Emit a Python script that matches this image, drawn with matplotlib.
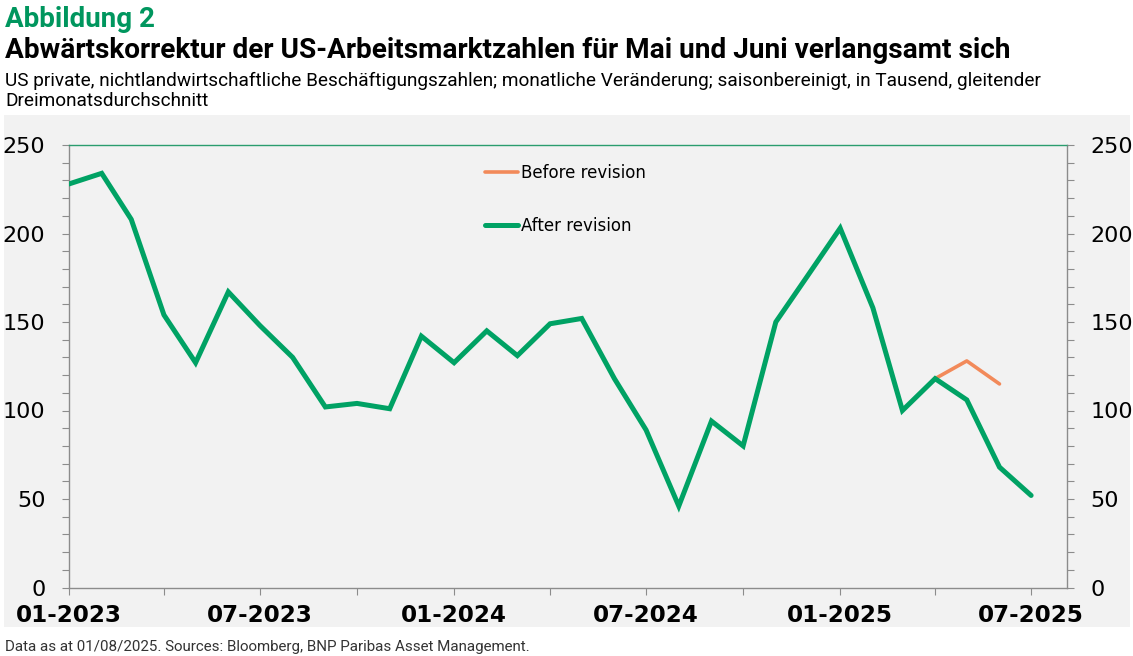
import matplotlib
matplotlib.use("Agg")
import matplotlib.pyplot as plt
from matplotlib.patches import Rectangle
from matplotlib.ticker import MultipleLocator
import pandas as pd

# 3-month moving average, private non-farm payrolls, thousands
after_dates = pd.date_range("2023-01-01", periods=31, freq="MS")
after_values = [228, 234, 208, 154, 127, 167, 148, 130, 102, 104, 101, 142,
                127, 145, 131, 149, 152, 118, 89, 46, 94, 80, 150, 176,
                203, 158, 100, 118, 106, 68, 52]

before_dates = pd.date_range("2025-04-01", periods=3, freq="MS")
before_values = [118, 128, 115]

tick_dates = pd.date_range("2023-01-01", "2025-07-01", freq="3MS")
tick_labels = [d.strftime("%m-%Y") if d.month in (1, 7) else "" for d in tick_dates]

GREEN = "#00a264"
TITLE_GREEN = "#00965e"
ORANGE = "#f28a5a"
GREY_BG = "#f2f2f2"
AX_GREY = "#8c8c8c"

W, H = 1133, 656
fig = plt.figure(figsize=(W / 100, H / 100), dpi=100)

def px(x, y):
    return x / W, 1 - y / H

# grey panel behind the chart
fig.patches.append(Rectangle(px(4, 627), (1130 - 4) / W, (627 - 115) / H,
                             transform=fig.transFigure, facecolor=GREY_BG,
                             edgecolor="none", zorder=-5))

left, right, top, bottom = 69, 1067, 145, 587.5
ax = fig.add_axes([left / W, 1 - bottom / H, (right - left) / W, (bottom - top) / H])
ax.set_facecolor(GREY_BG)

ax.plot(before_dates, before_values, color=ORANGE, lw=2.6, label="Before revision",
        solid_capstyle="round", zorder=3)
ax.plot(after_dates, after_values, color=GREEN, lw=3.6, label="After revision",
        solid_capstyle="round", solid_joinstyle="miter", zorder=4)

ax.set_ylim(0, 250)
ax.set_xlim(pd.Timestamp("2023-01-01"), pd.Timestamp("2025-08-04"))
ax.yaxis.set_major_locator(MultipleLocator(50))
ax.yaxis.set_minor_locator(MultipleLocator(10))
ax.set_xticks(tick_dates)
ax.set_xticklabels(tick_labels)

for s in ["left", "bottom", "right"]:
    ax.spines[s].set_color(AX_GREY)
    ax.spines[s].set_linewidth(1)
ax.spines["top"].set_color("#2a9d6e")
ax.spines["top"].set_linewidth(1)

ax.tick_params(axis="y", which="both", direction="out", length=5, width=0.8,
               color=AX_GREY, pad=12, labelsize=16)
ax.tick_params(axis="x", direction="out", length=5, width=0.8, color=AX_GREY,
               pad=7, labelsize=16.6)
for lab in ax.get_xticklabels():
    lab.set_fontweight("bold")

ax2 = ax.twinx()
ax2.set_ylim(0, 250)
ax2.yaxis.set_major_locator(MultipleLocator(50))
ax2.yaxis.set_minor_locator(MultipleLocator(10))
for s in ["left", "bottom", "right", "top"]:
    ax2.spines[s].set_visible(False)
ax2.tick_params(axis="y", which="both", direction="out", length=5, width=0.8,
                color=AX_GREY, pad=12, labelsize=16)

ax.legend(loc="upper left", bbox_to_anchor=((485 - left) / (right - left), 0.957),
          frameon=False, fontsize=12, handlelength=1.95, handletextpad=0.2,
          labelspacing=2.1, borderpad=0, borderaxespad=0)

fig.text(*px(5, 27), "Abbildung 2", family="Roboto", fontweight="bold",
         fontsize=20, color=TITLE_GREEN, va="baseline")
fig.text(*px(5, 58), "Abwärtskorrektur der US-Arbeitsmarktzahlen für Mai und Juni verlangsamt sich",
         family="Roboto", fontweight="bold", fontsize=20.2, color="black", va="baseline")
fig.text(*px(5, 86), "US private, nichtlandwirtschaftliche Beschäftigungszahlen; monatliche "
         "Veränderung; saisonbereinigt, in Tausend, gleitender",
         family="Roboto", fontsize=13.7, color="black", va="baseline")
fig.text(*px(5, 106), "Dreimonatsdurchschnitt", family="Roboto", fontsize=13.7,
         color="black", va="baseline")
fig.text(*px(5, 651), "Data as at 01/08/2025. Sources: Bloomberg, BNP Paribas Asset Management.",
         family="Roboto", fontsize=10.9, color="#333333", va="baseline")

fig.savefig("out.png", dpi=100)
